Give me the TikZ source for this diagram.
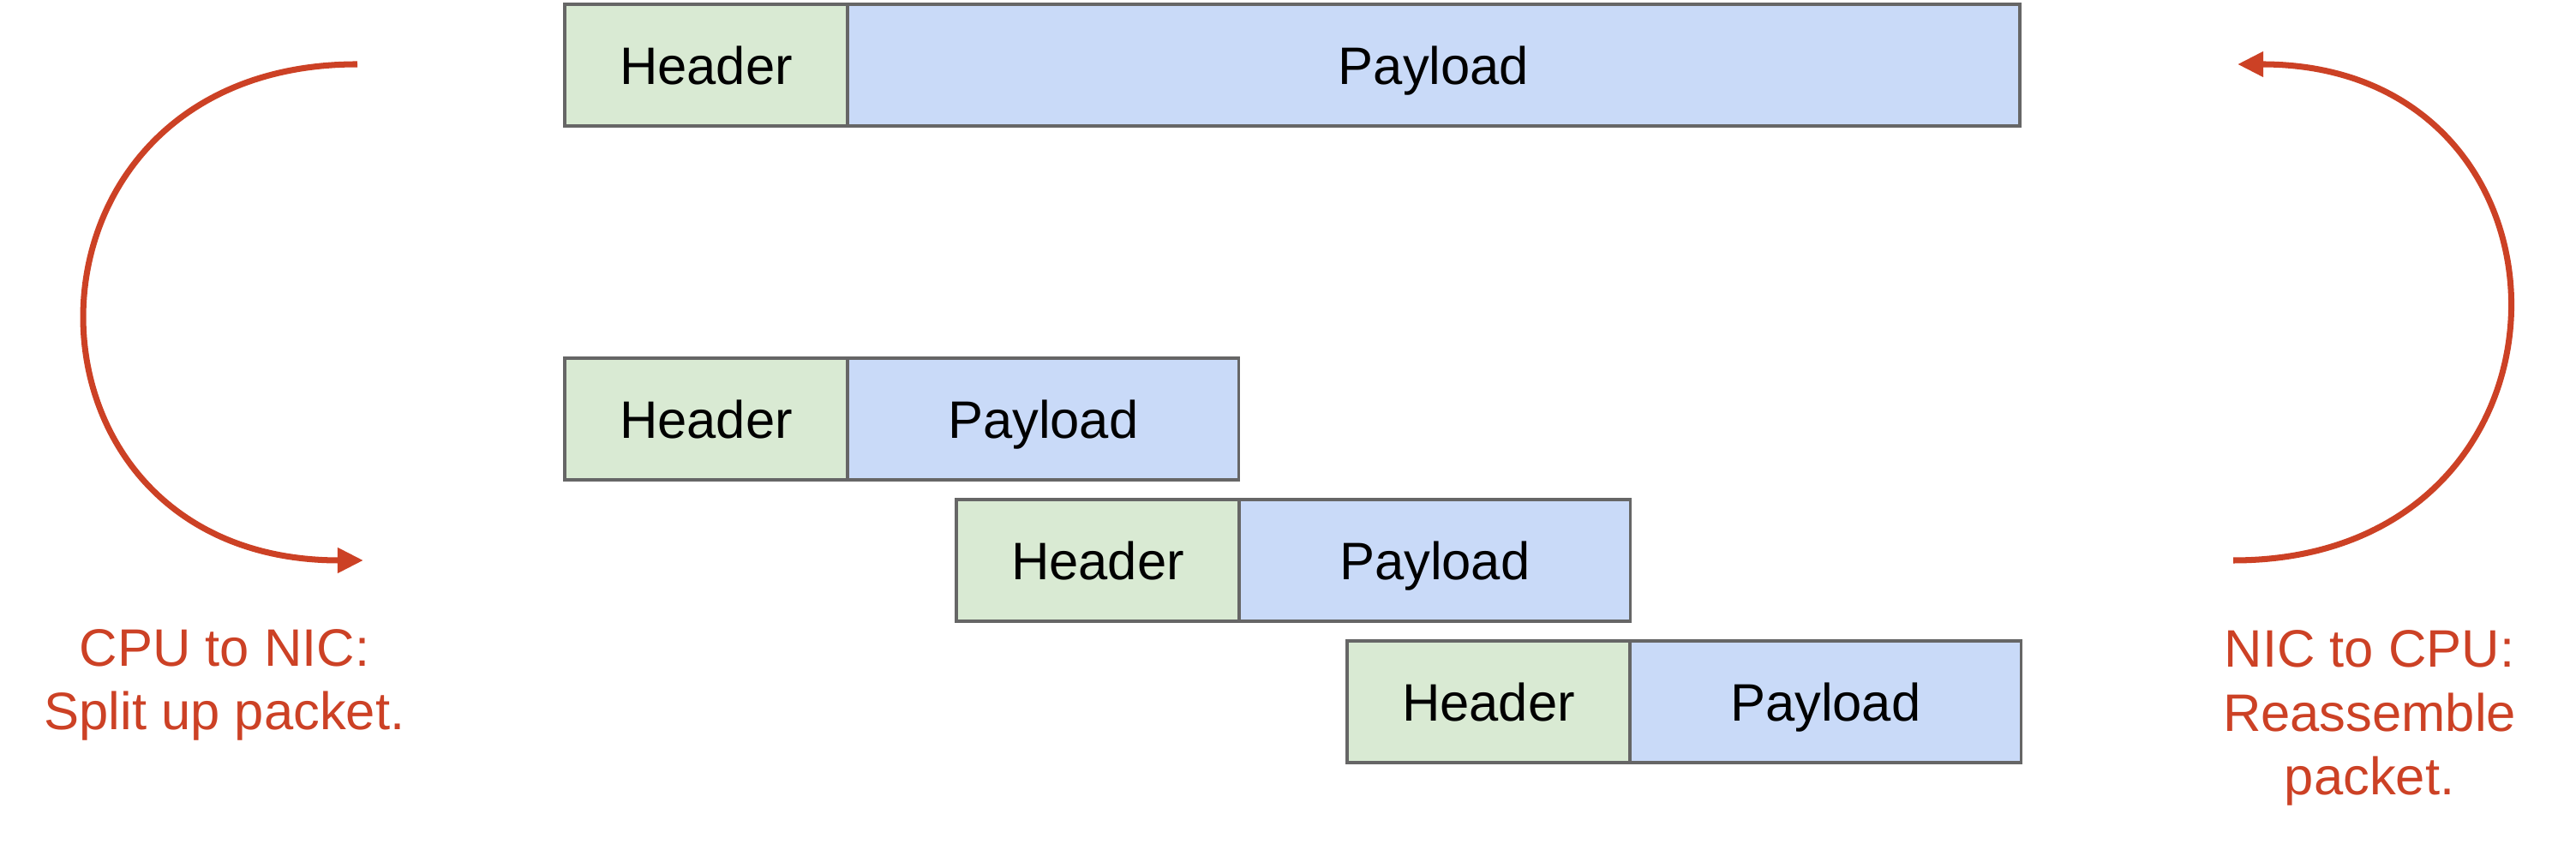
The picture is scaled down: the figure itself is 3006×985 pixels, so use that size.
\documentclass[tikz,border=0pt]{standalone}
\usepackage{fontspec}
\setmainfont{Liberation Sans}
\usetikzlibrary{positioning,arrows.meta}

\definecolor{hdrgreen}{HTML}{D9EAD3}
\definecolor{payblue}{HTML}{C9DAF8}
\definecolor{boxgray}{HTML}{666666}
\definecolor{berry}{HTML}{CC4125}

\tikzset{
  pktbox/.style={draw=boxgray, line width=1pt, minimum height=1.42cm,
    inner sep=0pt, outer sep=0pt, text height=12.6pt, text depth=0pt,
    font=\fontsize{17.5}{21.3}\selectfont},
  hdr/.style={pktbox, fill=hdrgreen, minimum width=3.30cm},
  pay/.style={pktbox, fill=payblue, minimum width=4.56cm},
  loopline/.style={draw=berry, line width=2pt,
    -{Triangle[length=0.3cm,width=0.28cm]}},
  note/.style={text=berry, align=center, inner sep=0pt,
    font=\fontsize{17.5}{21.3}\selectfont}
}

\begin{document}
\begin{tikzpicture}[x=0.01cm,y=0.01cm]
        \useasboundingbox (0,0) rectangle (3006,985);
        % whole packet
        \node[hdr] (hdrFull) at (824,909) {Header};
        \node[pay, minimum width=13.67cm, right=0pt of hdrFull] (payFull) {Payload};
        % split packets
        \foreach \i/\x/\y in {2/824/496, 3/1281/331, 4/1737/166}{
          \node[hdr] (hdr\i) at (\x,\y) {Header};
          \node[pay, right=0pt of hdr\i] (pay\i) {Payload};
        }
        % curved arrows
        \coordinate (cpuFrom) at (417,910);
        \coordinate (cpuTo) at (424,331);
        \draw[loopline] (cpuFrom) .. controls (-6,910) and (-6,331) .. (cpuTo);
        \coordinate (nicFrom) at (2606,331);
        \coordinate (nicTo) at (2611,910);
        \draw[loopline] (nicFrom) .. controls (3033,331) and (3033,910) .. (nicTo);
        % last line sits on the given point
        \node[note, anchor=base] (cpuNote) at (262,133) {CPU to NIC:\\Split up packet.};
        \node[note, anchor=base] (nicNote) at (2765,57) {NIC to CPU:\\Reassemble\\packet.};
      \end{tikzpicture}
\end{document}
